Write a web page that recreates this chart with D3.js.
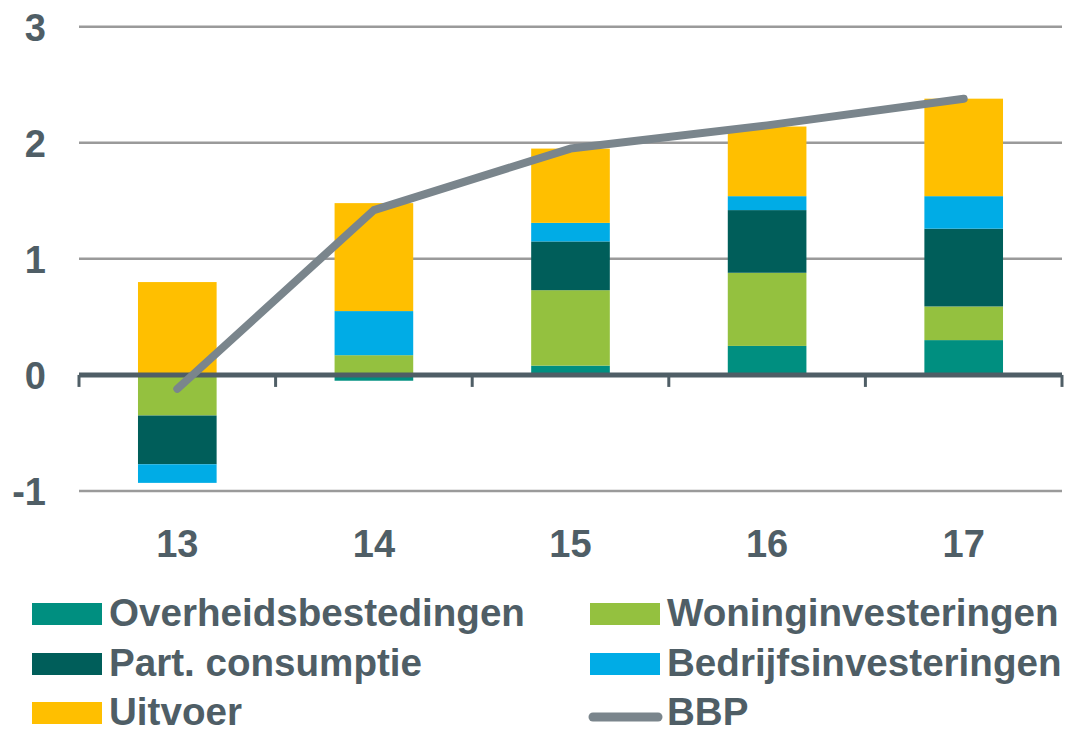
<!doctype html>
<html lang="nl">
  <head>
    <meta charset="utf-8">
    <title>BBP bijdragen</title>
    <script src="https://d3js.org/d3.v7.min.js"></script>
    <style>
      body { margin: 0; background: #fff; }
      text { font-family: "Liberation Sans", Arial, sans-serif; font-weight: bold; fill: #4f5e66; }
    </style>
  </head>
  <body>
    <svg></svg>
    <script>
      // data
      var years = ["13", "14", "15", "16", "17"];
      var overheid = [0.00, -0.05, 0.08, 0.25, 0.30];
      var woning   = [-0.35, 0.17, 0.65, 0.63, 0.29];
      var partCons = [-0.42, 0.00, 0.42, 0.54, 0.67];
      var bedrijf  = [-0.16, 0.38, 0.16, 0.12, 0.28];
      var uitvoer  = [0.80, 0.93, 0.64, 0.60, 0.84];
      var bbp      = [-0.12, 1.42, 1.95, 2.15, 2.38];
      var yTicks = [-1, 0, 1, 2, 3];

      var series = [
        {key: "Overheidsbestedingen", values: overheid, color: "#008f80"},
        {key: "Woninginvesteringen", values: woning, color: "#94c13f"},
        {key: "Part. consumptie", values: partCons, color: "#005e5a"},
        {key: "Bedrijfsinvesteringen", values: bedrijf, color: "#00ace6"},
        {key: "Uitvoer", values: uitvoer, color: "#ffbf00"}
      ];

      var W = 1067, H = 734;
      var svg = d3.select("svg").attr("width", W).attr("height", H);

      var x = d3.scaleBand().domain(years).range([79, 1062])
        .paddingInner(0.6).paddingOuter(0.3);
      var y = d3.scaleLinear().domain([-1, 3]).range([491, 26.7]);

      // gridlines
      svg.selectAll(".grid").data(yTicks.filter(function(d){ return d !== 0 })).enter()
        .append("line")
        .attr("x1", 79).attr("x2", 1062)
        .attr("y1", function(d){ return y(d) }).attr("y2", function(d){ return y(d) })
        .attr("stroke", "#9a9a9a").attr("stroke-width", 2.5);

      // y labels
      svg.selectAll(".ylab").data(yTicks).enter()
        .append("text")
        .attr("x", 46).attr("y", function(d){ return y(d) + 14 })
        .attr("text-anchor", "end")
        .style("font-size", "38px")
        .text(function(d){ return d });

      // stacked bars
      var rows = years.map(function(yr, i){
        var r = {year: yr};
        series.forEach(function(s){ r[s.key] = s.values[i] });
        return r;
      });
      var stack = d3.stack().keys(series.map(function(s){ return s.key }))
        .offset(d3.stackOffsetDiverging);
      var stacked = stack(rows);

      svg.selectAll(".layer").data(stacked).enter()
        .append("g")
        .attr("fill", function(d, i){ return series[i].color })
        .selectAll("rect").data(function(d){ return d }).enter()
        .append("rect")
        .attr("x", function(d){ return x(d.data.year) })
        .attr("width", x.bandwidth())
        .attr("y", function(d){ return y(Math.max(d[0], d[1])) })
        .attr("height", function(d){ return Math.abs(y(d[0]) - y(d[1])) });

      // zero axis with category ticks
      var step = x.step();
      var tickX = d3.range(6).map(function(i){ return 79 + i * step });
      svg.append("line")
        .attr("x1", 79).attr("x2", 1062)
        .attr("y1", y(0)).attr("y2", y(0))
        .attr("stroke", "#4f5e66").attr("stroke-width", 5);
      svg.selectAll(".xtick").data(tickX).enter()
        .append("line")
        .attr("x1", function(d){ return d }).attr("x2", function(d){ return d })
        .attr("y1", y(0)).attr("y2", y(0) + 12)
        .attr("stroke", "#4f5e66").attr("stroke-width", 3);

      // x labels
      svg.selectAll(".xlab").data(years).enter()
        .append("text")
        .attr("x", function(d){ return x(d) + x.bandwidth() / 2 })
        .attr("y", 557)
        .attr("text-anchor", "middle")
        .style("font-size", "38px")
        .text(function(d){ return d });

      // BBP line
      var line = d3.line()
        .x(function(d, i){ return x(years[i]) + x.bandwidth() / 2 })
        .y(function(d){ return y(d) });
      svg.append("path")
        .datum(bbp)
        .attr("d", line)
        .attr("fill", "none")
        .attr("stroke", "#7a858c")
        .attr("stroke-width", 8)
        .attr("stroke-linecap", "round")
        .attr("stroke-linejoin", "round");

      // legend (y = text baseline)
      var legendItems = [
        {label: "Overheidsbestedingen", color: series[0].color, col: 0, row: 0},
        {label: "Woninginvesteringen", color: series[1].color, col: 1, row: 0},
        {label: "Part. consumptie", color: series[2].color, col: 0, row: 1},
        {label: "Bedrijfsinvesteringen", color: series[3].color, col: 1, row: 1},
        {label: "Uitvoer", color: series[4].color, col: 0, row: 2},
        {label: "BBP", color: "#7a858c", col: 1, row: 2, isLine: true}
      ];
      var colX = [32, 590], rowY = [626, 676, 725];
      var lg = svg.selectAll(".leg").data(legendItems).enter()
        .append("g")
        .attr("transform", function(d){ return "translate(" + colX[d.col] + "," + rowY[d.row] + ")" });
      lg.filter(function(d){ return !d.isLine }).append("rect")
        .attr("x", 0).attr("y", -23).attr("width", 70).attr("height", 22)
        .attr("fill", function(d){ return d.color });
      lg.filter(function(d){ return d.isLine }).append("line")
        .attr("x1", 3).attr("x2", 68).attr("y1", -8).attr("y2", -8)
        .attr("stroke", function(d){ return d.color })
        .attr("stroke-width", 9).attr("stroke-linecap", "round");
      lg.append("text")
        .attr("x", 77).attr("y", 0)
        .style("font-size", "38.6px")
        .text(function(d){ return d.label });
    </script>
  </body>
</html>
